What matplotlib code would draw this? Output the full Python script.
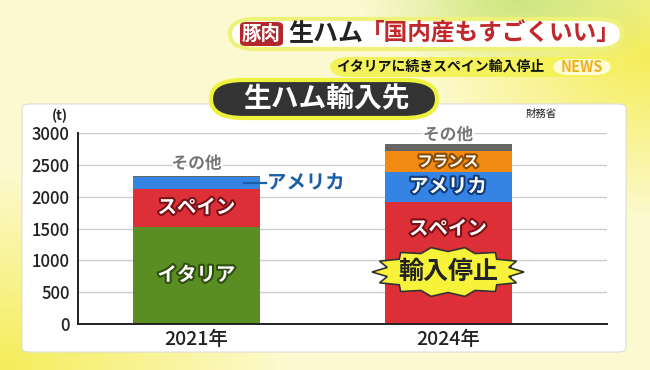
import matplotlib.pyplot as plt
import matplotlib.patheffects as pe
from matplotlib.patches import FancyBboxPatch, Polygon
import numpy as np

plt.rcParams['font.family'] = ['Noto Sans CJK JP', 'DejaVu Sans']

years = ['2021年', '2024年']
countries = ['イタリア', 'スペイン', 'アメリカ', 'フランス', 'その他']
italy = [1530, 0]
spain = [590, 1920]
usa = [190, 470]
france = [0, 325]
other = [10, 115]
series = [italy, spain, usa, france, other]
colors = ['#5b8e22', '#dd2f38', '#3584e4', '#f08a12', '#666666']
yticks = [0, 500, 1000, 1500, 2000, 2500, 3000]

W, H = 650, 370
fig = plt.figure(figsize=(W / 100, H / 100), dpi=100)


def fx(x):
    return x / W


def fy(y):
    return 1 - y / H


# background gradient
bg = fig.add_axes([0, 0, 1, 1])
xx, yy = np.meshgrid(np.linspace(0, 1, 200), np.linspace(0, 1, 120))
base = np.array([0.99, 0.98, 0.82])
yel = np.array([0.96, 0.93, 0.35])
grn = np.array([0.80, 0.90, 0.50])
w1 = np.clip(1 - np.hypot((xx - 0.0) / 0.45, (yy - 1.0) / 0.55), 0, 1)
w2 = np.clip(1 - np.hypot((xx - 1.0) / 0.35, (yy - 0.15) / 0.45), 0, 1)
w3 = np.clip(1 - np.hypot((xx - 0.8) / 0.25, (yy - 0.0) / 0.2), 0, 1)
img = base * np.ones_like(xx)[..., None]
img = img * (1 - w1[..., None]) + yel * w1[..., None]
img = img * (1 - w2[..., None]) + yel * w2[..., None]
img = img * (1 - w3[..., None]) + grn * w3[..., None]
bg.imshow(img, extent=[0, 1, 0, 1], aspect='auto', origin='upper')
bg.set_xlim(0, 1)
bg.set_ylim(0, 1)
bg.axis('off')

# white panel
fig.patches.append(FancyBboxPatch((fx(22), fy(352)), fx(604), 248 / H,
                                  boxstyle='round,pad=0,rounding_size=0.012',
                                  transform=fig.transFigure, fc='white',
                                  ec='#dddddd', lw=0.8, zorder=1))

# header pill
fig.patches.append(FancyBboxPatch((fx(230), fy(49)), fx(392), 30 / H,
                                  boxstyle='round,pad=0,rounding_size=0.04',
                                  transform=fig.transFigure, fc='white',
                                  ec='#eef27a', lw=3, zorder=2))
fig.patches.append(FancyBboxPatch((fx(240), fy(46)), fx(43), 24 / H,
                                  boxstyle='round,pad=0,rounding_size=0.01',
                                  transform=fig.transFigure, fc='#b3262b',
                                  ec='none', zorder=3))
fig.text(fx(261.5), fy(34), '豚肉', color='white', fontsize=14, fontweight='bold',
         ha='center', va='center', zorder=4)
fig.text(fx(288), fy(34), '生ハム', color='#222222', fontsize=18, fontweight='bold',
         ha='left', va='center', zorder=4)
fig.text(fx(361), fy(34), '「国内産もすごくいい」', color='#c0282b', fontsize=17,
         fontweight='bold', ha='left', va='center', zorder=4)

# subtitle pill
fig.patches.append(FancyBboxPatch((fx(330), fy(77)), fx(287), 20 / H,
                                  boxstyle='round,pad=0,rounding_size=0.03',
                                  transform=fig.transFigure, fc='#f3f25a',
                                  ec='none', zorder=2))
fig.text(fx(336), fy(67), 'イタリアに続きスペイン輸入停止', color='#111111', fontsize=10,
         fontweight='bold', ha='left', va='center', zorder=4)
fig.patches.append(FancyBboxPatch((fx(553), fy(75)), fx(58), 16 / H,
                                  boxstyle='round,pad=0,rounding_size=0.025',
                                  transform=fig.transFigure, fc='#fdfbd8',
                                  ec='none', zorder=3))
fig.text(fx(582), fy(67), 'NEWS', color='#f0b020', fontsize=10.5, fontweight='bold',
         ha='center', va='center', zorder=4)

# title pill
fig.patches.append(FancyBboxPatch((fx(211), fy(118)), fx(226), 38 / H,
                                  boxstyle='round,pad=0,rounding_size=0.05',
                                  transform=fig.transFigure, fc='#333333',
                                  ec='#eef23c', lw=3, zorder=5))
fig.text(fx(326), fy(99), '生ハム輸入先', color='white', fontsize=20, fontweight='bold',
         ha='center', va='center', zorder=6)

# chart
ax = fig.add_axes([fx(78), fy(324), fx(529), 191 / H])
ax.set_zorder(3)
ax.patch.set_alpha(0)
x = np.arange(len(years))
bottom = np.zeros(len(years))
for vals, c in zip(series, colors):
    ax.bar(x, vals, 0.505, bottom=bottom, color=c, zorder=3)
    bottom += np.array(vals)

ax.set_xlim(-0.471, 1.632)
ax.set_ylim(0, 3000)
ax.set_yticks(yticks)
ax.set_xticks(x)
ax.set_xticklabels(years, fontsize=14, color='#222222', fontweight='medium')
for t in ax.get_yticklabels():
    t.set_fontweight('medium')
ax.tick_params(axis='y', labelsize=12, colors='#222222', length=0, pad=6)
ax.tick_params(axis='x', length=0, pad=4)
ax.grid(axis='y', color='#cccccc', lw=1, zorder=0)
for s in ['top', 'right']:
    ax.spines[s].set_visible(False)
for s in ['left', 'bottom']:
    ax.spines[s].set_linewidth(1.4)
    ax.spines[s].set_color('#222222')
    ax.spines[s].set_zorder(4)


def outlined(xp, yp, s, fc, ec, size, lw=3):
    ax.text(xp, yp, s, color=fc, fontsize=size, fontweight='bold', ha='center',
            va='center', zorder=6,
            path_effects=[pe.withStroke(linewidth=lw, foreground=ec)])


# 2021 labels
outlined(0, italy[0] / 2, 'イタリア', 'white', '#2e4d10', 14)
outlined(0, italy[0] + spain[0] / 2, 'スペイン', 'white', '#7a1016', 14)
outlined(0, sum(s[0] for s in series) + 200, 'その他', '#777777', 'white', 12)
y_us21 = italy[0] + spain[0] + usa[0] / 2
ax.plot([0.19, 0.275], [y_us21, y_us21], color='#1a5fa8', lw=1.6, zorder=6)
ax.text(0.28, y_us21, 'アメリカ', color='#1a5fa8', fontsize=14, fontweight='bold',
        ha='left', va='center', zorder=6,
        path_effects=[pe.withStroke(linewidth=3, foreground='white')])

# 2024 labels
outlined(1, 1490, 'スペイン', 'white', '#7a1016', 14)
outlined(1, italy[1] + spain[1] + usa[1] / 2, 'アメリカ', 'white', '#103a78', 14)
outlined(1, italy[1] + spain[1] + usa[1] + france[1] / 2, 'フランス', 'white', '#8a4a00', 11)
outlined(1, sum(s[1] for s in series) + 140, 'その他', '#777777', 'white', 12)

# starburst
n = 28
ang = np.linspace(0, 2 * np.pi, n, endpoint=False)
rad = np.where(np.arange(n) % 2 == 0, 1.0, 0.82)
cx, cy = 448, 272
px = cx + 76 * rad * np.cos(ang)
py = cy + 25 * rad * np.sin(ang)
burst = Polygon(np.column_stack([fx(px), fy(py)]), closed=True, fc='#f7f23a',
                ec='#333333', lw=1.2, transform=fig.transFigure, zorder=7)
fig.patches.append(burst)
fig.text(fx(cx), fy(cy), '輸入停止', color='#222222', fontsize=18, fontweight='bold',
         ha='center', va='center', zorder=8)

fig.text(fx(60), fy(116), '(t)', color='#222222', fontsize=10, fontweight='bold',
         ha='center', va='center', zorder=4)
fig.text(fx(541), fy(114), '財務省', color='#222222', fontsize=7.5,
         ha='center', va='center', zorder=4)

fig.savefig('out.png', dpi=100)
